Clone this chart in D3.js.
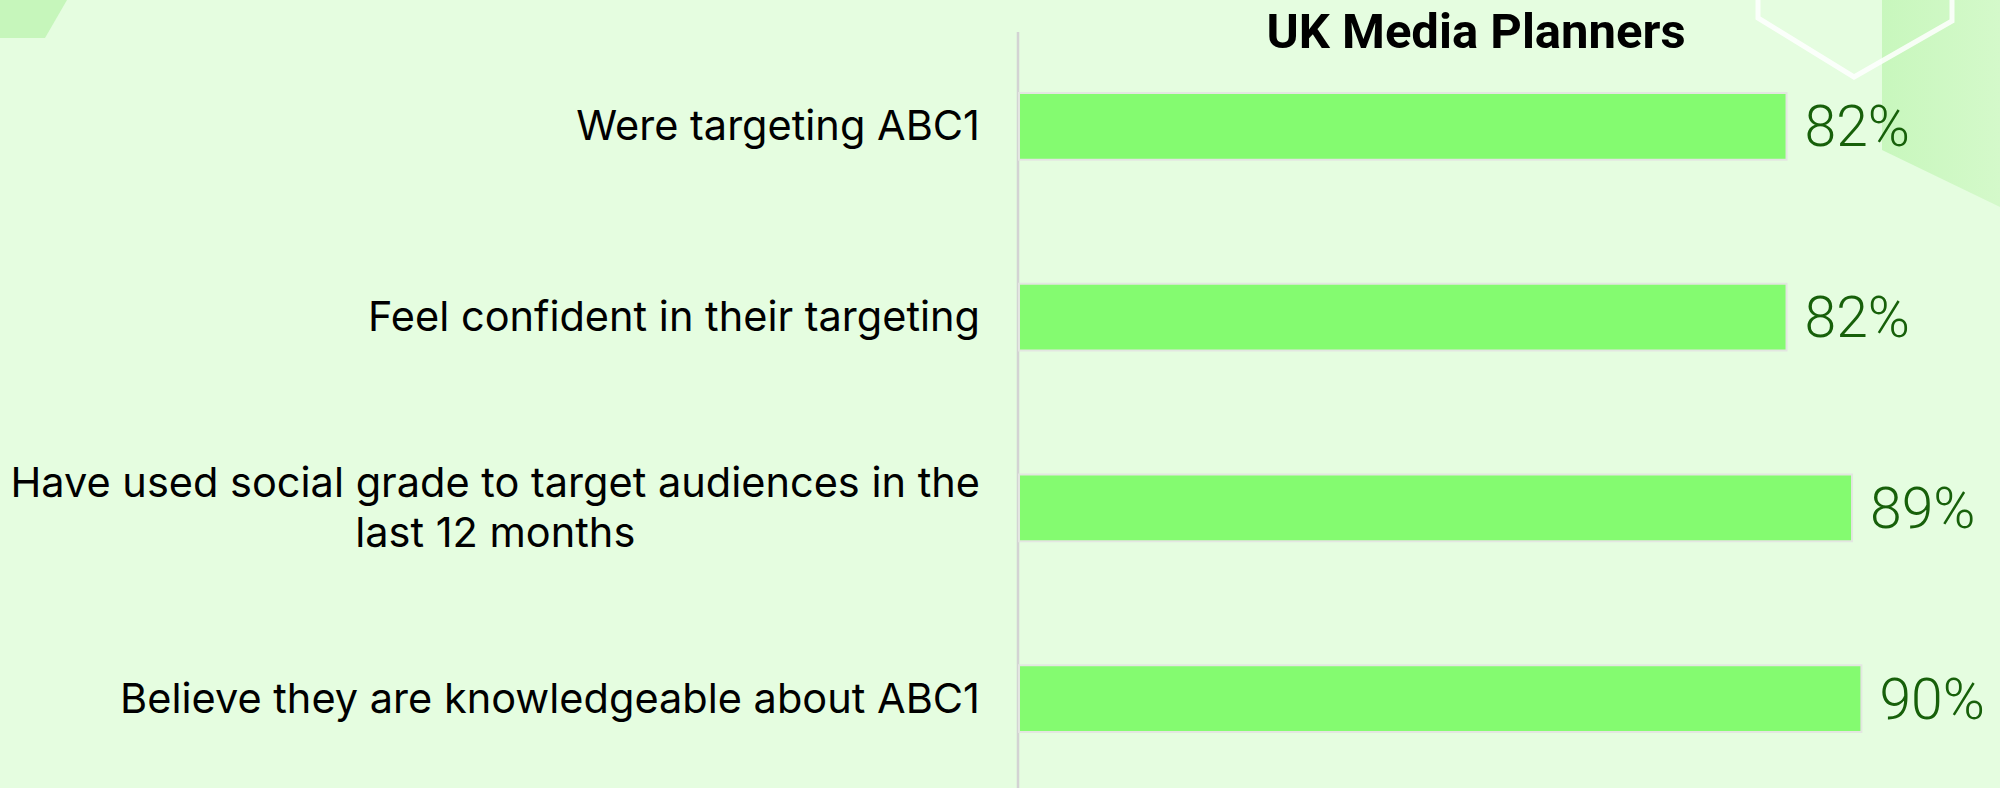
<!DOCTYPE html>
<html>
<head>
<meta charset="utf-8">
<script src="https://cdn.jsdelivr.net/npm/d3@7"></script>
<style>
  html, body { margin: 0; padding: 0; background: #e5fde0; }
  svg { display: block; }
</style>
</head>
<body>
<div id="my_dataviz"></div>
<script>
var W = 2000, H = 788;

const categories = [
	"Were targeting ABC1",
	"Feel confident in their targeting",
	"Have used social grade to target audiences in the last 12 months",
	"Believe they are knowledgeable about ABC1"
];
const values = [82, 82, 89, 90];
const seriesName = "UK Media Planners";

var svg = d3
	.select("#my_dataviz")
	.append("svg")
	.attr("width", W)
	.attr("height", H);

svg.append("rect").attr("width", W).attr("height", H).attr("fill", "#e5fde0");

// background decoration
var defs = svg.append("defs");
var grad = defs.append("linearGradient").attr("id", "g1").attr("x1", "0").attr("x2", "1").attr("y1", "0").attr("y2", "0");
grad.append("stop").attr("offset", "0").attr("stop-color", "#c8f7bd");
grad.append("stop").attr("offset", "1").attr("stop-color", "#d4f9ca");

svg.append("path")
	.attr("d", "M0,0 L67,0 L45,38 L0,38 Z")
	.attr("fill", "#c6f6bb");
svg.append("path")
	.attr("d", "M1882,0 L2000,0 L2000,207 L1882,150 Z")
	.attr("fill", "url(#g1)");
svg.append("path")
	.attr("d", "M1758,-5 L1758,18 L1854,77 L1952,21 L1952,-5")
	.attr("fill", "none")
	.attr("stroke", "#ffffff")
	.attr("stroke-width", 5)
	.attr("opacity", 0.85);

var x0 = 1019;
var x = d3.scaleLinear().domain([0, 100]).range([x0, x0 + 936]);
var y = d3
	.scaleBand()
	.domain(categories)
	.range([31, 794])
	.paddingInner(0.65)
	.paddingOuter(0.325);

// axis line
svg.append("line")
	.attr("x1", x0 - 1).attr("x2", x0 - 1)
	.attr("y1", 32).attr("y2", H)
	.attr("stroke", "#d3d3d3")
	.attr("stroke-width", 2.5);

// title
svg.append("text")
	.attr("x", 1476)
	.attr("y", 48)
	.attr("text-anchor", "middle")
	.style("font-family", "Roboto")
	.style("font-weight", "bold")
	.style("font-size", "49px")
	.attr("fill", "#000")
	.text(seriesName);

// Bars
svg
	.selectAll("mybar")
	.data(values)
	.enter()
	.append("rect")
	.attr("x", x(0))
	.attr("y", function (d, i) {
		return y(categories[i]);
	})
	.attr("width", function (d) {
		return x(d) - x(0);
	})
	.attr("height", y.bandwidth())
	.attr("fill", "#84fb70")
	.attr("stroke", "#e3e6e1")
	.attr("stroke-width", 2);

// value labels
svg
	.selectAll("vlab")
	.data(values)
	.enter()
	.append("text")
	.attr("x", function (d) {
		return x(d) + 18;
	})
	.attr("y", function (d, i) {
		return y(categories[i]) + y.bandwidth() / 2 + 20;
	})
	.style("font-family", "Roboto")
	.style("font-weight", "300")
	.style("font-size", "57px")
	.attr("fill", "#17600a")
	.text(function (d) {
		return d + "%";
	});

// category labels, wrapped and centred as a block ending at the axis
var labelRight = 980, maxW = 985, lineH = 50;
categories.forEach(function (c) {
	var t = svg.append("text")
		.style("font-family", "Inter")
		.style("font-size", "41.5px")
		.attr("fill", "#000");
	var words = c.split(" "), lines = [], cur = [];
	var probe = t.append("tspan");
	words.forEach(function (w) {
		cur.push(w);
		probe.text(cur.join(" "));
		if (probe.node().getComputedTextLength() > maxW && cur.length > 1) {
			cur.pop();
			lines.push(cur.join(" "));
			cur = [w];
		}
	});
	lines.push(cur.join(" "));
	probe.text(lines[0]);
	var w0 = probe.node().getComputedTextLength();
	probe.remove();
	var cy = y(c) + y.bandwidth() / 2 + 14 - (lines.length - 1) * lineH / 2;
	if (lines.length === 1) {
		t.attr("x", labelRight).attr("y", cy).attr("text-anchor", "end").text(lines[0]);
	} else {
		t.attr("text-anchor", "middle");
		lines.forEach(function (l, k) {
			t.append("tspan")
				.attr("x", labelRight - w0 / 2)
				.attr("y", cy + k * lineH)
				.text(l);
		});
	}
});
</script>
</body>
</html>
